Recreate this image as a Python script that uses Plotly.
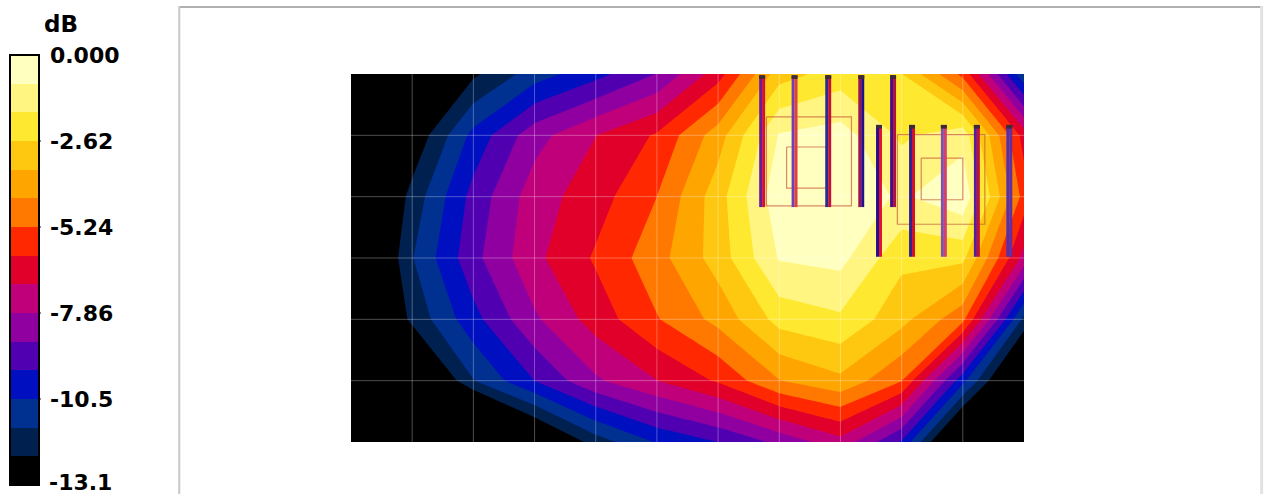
import plotly.graph_objects as go

x_grid = list(range(12))
y_grid = list(range(7))

# Level in dB at each grid node (top row first)
row_0 = [-16.0, -15.0, -12.4, -10.9, -9.9, -8.7, -6.5, -3.0, -2.2, -2.6, -5.5, -11.2]
row_1 = [-16.0, -13.0, -10.2, -8.2, -7.0, -6.0, -3.9, -0.8, -0.5, -1.9, -1.2, -6.5]
row_2 = [-15.0, -11.9, -9.3, -7.4, -6.5, -5.24, -3.0, -0.3, -0.3, -1.0, -0.2, -5.6]
row_3 = [-15.0, -11.4, -9.0, -7.2, -6.0, -4.7, -3.1, -0.8, -0.6, -2.4, -2.4, -7.3]
row_4 = [-15.0, -12.0, -9.9, -8.0, -6.6, -5.3, -4.1, -2.3, -1.9, -3.2, -5.0, -11.6]
row_5 = [-18.0, -14.5, -11.4, -9.6, -8.0, -7.0, -6.0, -4.4, -3.7, -5.2, -10.2, -15.0]
row_6 = [-22.0, -20.0, -17.0, -14.0, -11.8, -10.4, -9.6, -8.5, -7.3, -9.7, -15.0, -18.0]
z_values = [row_0, row_1, row_2, row_3, row_4, row_5, row_6]

z_min = -13.1
z_max = 0.0
tick_values = [0.0, -2.62, -5.24, -7.86, -10.48]
tick_labels = ["0.000", "-2.62", "-5.24", "-7.86", "-10.5"]
bottom_label = "-13.1"

# Colour bands from the lowest level up
band_colors = ["#000000", "#002050", "#003090", "#0010c0", "#5000b0",
               "#9000a0", "#c0007a", "#e0002a", "#ff2800", "#ff7800",
               "#ffa500", "#ffc810", "#ffe830", "#fff580", "#ffffc0"]

# Line-array elements: x, top y, bottom y, left colour, right colour
upper_x = [6.72, 7.25, 7.80, 8.34, 8.86]
upper_left = ["#6a1a9a", "#7040b0", "#2a2a90", "#a01050", "#401090"]
upper_right = ["#d0103a", "#e04040", "#c01040", "#201090", "#b01040"]
upper_y = [0.02, 2.17]
lower_x = [8.63, 9.17, 9.69, 10.23, 10.76]
lower_left = ["#201090", "#302090", "#8050b0", "#5020a0", "#5030b0"]
lower_right = ["#e01030", "#d01030", "#d04070", "#c0103a", "#6030a0"]
lower_y = [0.83, 2.98]
cap_length = 0.06

# Coverage outlines: x0, x1, y0, y1
outline_boxes = [(6.79, 8.18, 0.70, 2.15), (7.12, 7.77, 1.19, 1.86),
                 (8.93, 10.36, 0.99, 2.45), (9.32, 10.00, 1.37, 2.05)]

PLOT_L, PLOT_R, PLOT_T, PLOT_B = 350, 1024, 74, 442
W, H = 1275, 494
BAR_L, BAR_R, BAR_T, BAR_B = 10, 39, 55, 485
n = len(band_colors)
scale = []
for i, c in enumerate(band_colors):
    scale += [[i / n, c], [(i + 1) / n, c]]


def px(p):
    return (p - PLOT_L) / (PLOT_R - PLOT_L)


def py(p):
    return (PLOT_B - p) / (PLOT_B - PLOT_T)


fig = go.Figure()
fig.add_trace(go.Contour(
    x=x_grid, y=y_grid, z=z_values, zmin=z_min, zmax=z_max, zauto=False,
    colorscale=scale, autocontour=False,
    contours=dict(start=z_min, end=z_max, size=(z_max - z_min) / n, coloring="fill", showlines=False),
    line=dict(width=0, smoothing=0), hoverinfo="skip",
    colorbar=dict(
        x=px(BAR_L), xanchor="left", xpad=0, y=py(BAR_T), yanchor="top", ypad=0,
        lenmode="pixels", len=BAR_B - BAR_T, thicknessmode="pixels", thickness=BAR_R - BAR_L,
        outlinecolor="#000000", outlinewidth=2, borderwidth=0,
        tickmode="array", tickvals=tick_values, ticktext=tick_labels,
        ticks="outside", ticklen=6, tickwidth=1, tickcolor="rgba(0,0,0,0)",
        tickfont=dict(family="DejaVu Sans", size=22, color="#000000", weight="bold"),
    ),
))

GRID = "rgba(255,255,255,0.30)"
for gx in x_grid[1:-1]:
    fig.add_trace(go.Scatter(x=[gx, gx], y=[y_grid[0], y_grid[-1]], mode="lines",
                             line=dict(color=GRID, width=1), hoverinfo="skip", showlegend=False))
for gy in y_grid[1:-1]:
    fig.add_trace(go.Scatter(x=[x_grid[0], x_grid[-1]], y=[gy, gy], mode="lines",
                             line=dict(color=GRID, width=1), hoverinfo="skip", showlegend=False))

for x0, x1, y0, y1 in outline_boxes:
    fig.add_trace(go.Scatter(x=[x0, x1, x1, x0, x0], y=[y0, y0, y1, y1, y0], mode="lines",
                             line=dict(color="rgba(200,90,60,0.7)", width=1.2), hoverinfo="skip", showlegend=False))

OFF = 0.024
for xs, lefts, rights, ys in [(upper_x, upper_left, upper_right, upper_y),
                              (lower_x, lower_left, lower_right, lower_y)]:
    for bx, lc, rc in zip(xs, lefts, rights):
        fig.add_trace(go.Scatter(x=[bx - OFF, bx - OFF], y=ys, mode="lines",
                                 line=dict(color=lc, width=3), hoverinfo="skip", showlegend=False))
        fig.add_trace(go.Scatter(x=[bx + OFF, bx + OFF], y=ys, mode="lines",
                                 line=dict(color=rc, width=3), hoverinfo="skip", showlegend=False))
        fig.add_trace(go.Scatter(x=[bx, bx], y=[ys[0], ys[0] + cap_length], mode="lines",
                                 line=dict(color="#3a2a3a", width=6), hoverinfo="skip", showlegend=False))

separators = []
for v in tick_values[1:]:
    yp = BAR_T + (z_max - v) / (z_max - z_min) * (BAR_B - BAR_T)
    separators.append(dict(type="line", xref="paper", yref="paper", x0=px(BAR_L), x1=px(BAR_R),
                           y0=py(yp), y1=py(yp), line=dict(color="#101010", width=2)))

fig.update_layout(
    width=W, height=H, showlegend=False,
    margin=dict(l=PLOT_L, r=W - PLOT_R, t=PLOT_T, b=H - PLOT_B, pad=0),
    paper_bgcolor="#ffffff", plot_bgcolor="#000000",
    xaxis=dict(range=[x_grid[0], x_grid[-1]], visible=False),
    yaxis=dict(range=[y_grid[-1], y_grid[0]], visible=False),
    annotations=[
        dict(text="dB", xref="paper", yref="paper", x=px(59.5), y=py(24), showarrow=False,
             xanchor="center", yanchor="middle",
             font=dict(family="DejaVu Sans", size=23, color="#000000", weight="bold")),
        dict(text=bottom_label, xref="paper", yref="paper", x=px(47), y=py(482), showarrow=False,
             xanchor="left", yanchor="middle", xshift=0, borderpad=0,
             font=dict(family="DejaVu Sans", size=22, color="#000000", weight="bold")),
    ],
    shapes=separators + [
        dict(type="line", xref="paper", yref="paper", x0=px(178), x1=px(1262), y0=py(7), y1=py(7),
             line=dict(color="#b0b0b0", width=2)),
        dict(type="line", xref="paper", yref="paper", x0=px(178), x1=px(178), y0=py(6), y1=py(494),
             line=dict(color="#c8c8c8", width=2)),
        dict(type="line", xref="paper", yref="paper", x0=px(1262), x1=px(1262), y0=py(6), y1=py(494),
             line=dict(color="#e2e2e2", width=3)),
    ],
)

fig.write_html("out.html", config={"displayModeBar": False},
               post_script="document.body.style.margin='0';document.documentElement.style.overflow='hidden';")
